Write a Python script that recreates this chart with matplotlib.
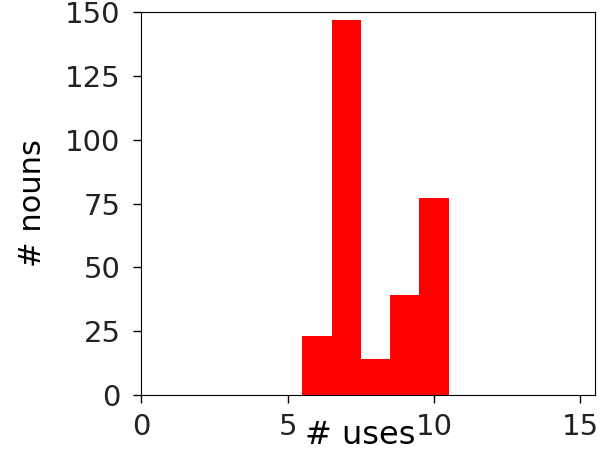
import numpy as np
import matplotlib.pyplot as plt

# histogram of how many times each noun is used
use_counts = [6, 7, 8, 9, 10]
n_nouns = [23, 147, 14, 39, 77]
bin_edges = [5.5, 6.5, 7.5, 8.5, 9.5, 10.5]

plt.rcParams["font.family"] = "DejaVu Sans"

fig = plt.figure(figsize=(6.01, 4.69), dpi=100)
ax = fig.add_axes([0.235, 0.158, 0.755, 0.816])

ax.hist(use_counts, bins=bin_edges, weights=n_nouns, color="red")

ax.set_xlim(0, 15.5)
ax.set_ylim(0, 150)
ax.set_xticks([0, 5, 10, 15])
ax.set_yticks([0, 25, 50, 75, 100, 125, 150])
ax.tick_params(labelsize=21, length=6, width=1, labelcolor="#222222")
ax.tick_params(axis="y", pad=9)
ax.tick_params(axis="x", pad=7)

ax.set_xlabel("# uses", fontsize=23)
ax.xaxis.set_label_coords(0.482, -0.066)
ax.set_ylabel("# nouns", fontsize=22, labelpad=13)

fig.savefig("out.png", dpi=100)
